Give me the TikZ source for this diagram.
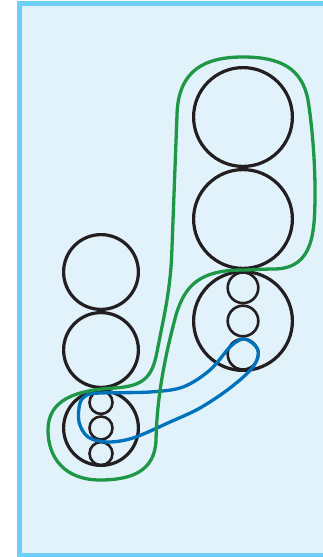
\documentclass[tikz,border=0pt]{standalone}
\usepackage{xcolor}
\usepackage{tikz}
\usetikzlibrary{positioning}

\definecolor{fondo}{RGB}{225,242,251}
\definecolor{marco}{RGB}{110,208,247}
\definecolor{verde}{RGB}{30,152,70}
\definecolor{azul}{RGB}{0,114,188}
\definecolor{negro}{RGB}{35,31,32}

\begin{document}
\begin{tikzpicture}[x=1pt, y=-1pt,
  disco/.style={circle, draw=negro, line width=3.2pt, inner sep=0pt},
  grande/.style={disco, minimum size=98.8pt},
  medio/.style={disco, minimum size=74.8pt},
  chicoR/.style={disco, line width=2.6pt, minimum size=30.6pt},
  chicoL/.style={disco, line width=2.6pt, minimum size=23pt},
  lazo/.style={line width=3.3pt, line join=round}]
\useasboundingbox (0,0) rectangle (322,557);
% Marco
\draw[marco, fill=fondo, line width=5pt] (19.5,3) rectangle (340,555);
% Columna derecha
\node[grande] (r1) at (243,117) {};
\node[grande, below=0pt of r1] (r2) {};
\node[grande, below=0pt of r2] (r3) {};
\node[chicoR] (r3b) at (r3) {};
\node[chicoR, above=0pt of r3b] (r3a) {};
\node[chicoR, below=0pt of r3b] (r3c) {};
% Columna izquierda
\node[medio] (l1) at (101,272) {};
\node[medio, below=0pt of l1] (l2) {};
\node[medio, below=0pt of l2] (l3) {};
\node[chicoL] (l3b) at (l3) {};
\node[chicoL, above=0pt of l3b] (l3a) {};
\node[chicoL, below=0pt of l3b] (l3c) {};
% Lazo azul
\draw[lazo, azul] plot[smooth cycle, tension=0.55] coordinates {
  (100,393) (150,392) (183,387) (210,370) (231,346) (245,339) (258,350)
  (253,367) (230,388) (200,408) (170,422) (133,438) (107,442) (88,437)
  (79,422) (80,403) (87,395)};
% Lazo verde
\draw[lazo, verde] (243,57)
  .. controls (280,57) and (302,68) .. (308,100)
  .. controls (312,125) and (315,160) .. (315,190)
  .. controls (315,232) and (314,268) .. (275,269)
  .. controls (262,269) and (250,270) .. (243,270)
  .. controls (200,270) and (185,285) .. (176,315)
  .. controls (168,345) and (157,390) .. (156,440)
  .. controls (155,472) and (130,480) .. (100,480)
  .. controls (65,480) and (48,458) .. (48,430)
  .. controls (48,400) and (75,390) .. (115,388)
  .. controls (143,386) and (152,378) .. (157,352)
  .. controls (163,320) and (171,290) .. (172,247)
  -- (177,115)
  .. controls (178,70) and (205,57) .. (243,57) -- cycle;
\end{tikzpicture}
\end{document}
